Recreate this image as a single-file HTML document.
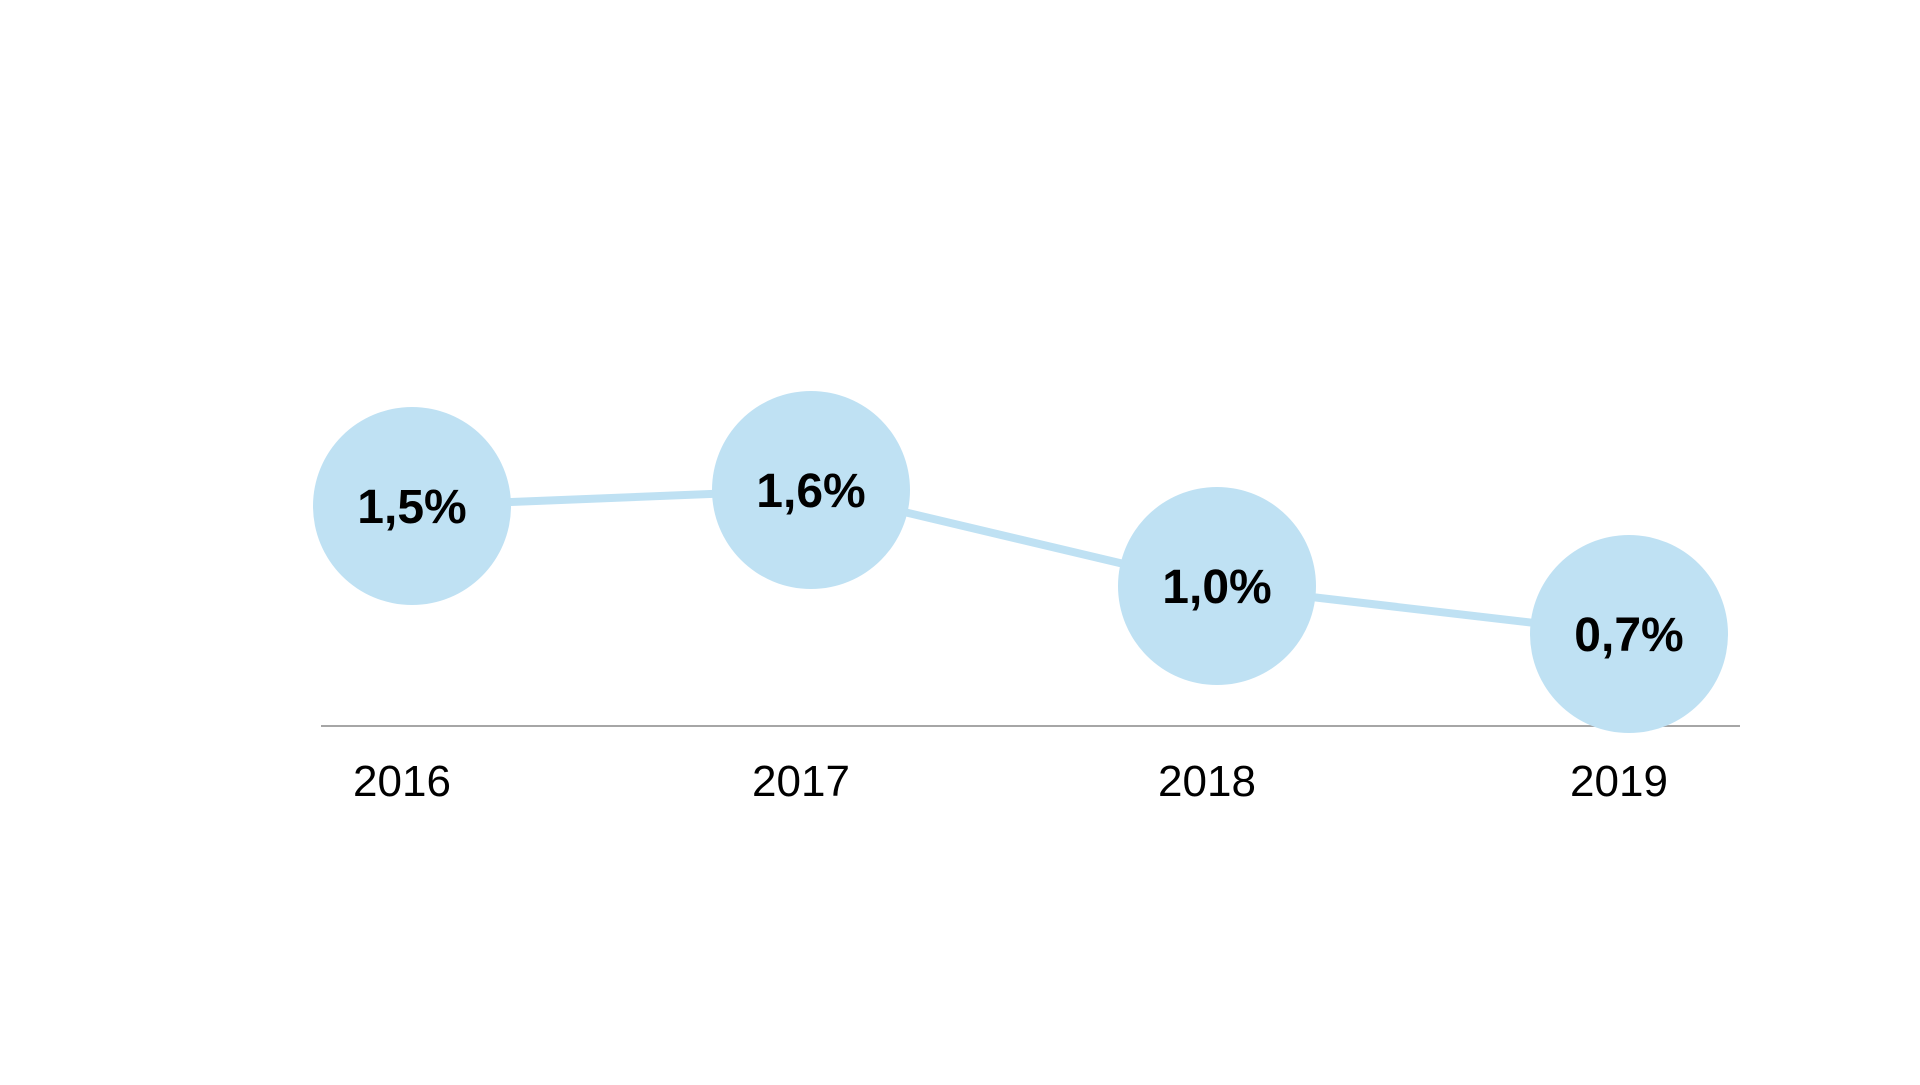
<!DOCTYPE html>
<html>
<head>
<meta charset="utf-8">
<style>
  html, body { margin: 0; padding: 0; background: #ffffff; }
  body { width: 1920px; height: 1080px; overflow: hidden; }
  svg text { font-family: "Liberation Sans", Arial, sans-serif; }
</style>
</head>
<body>
<svg id="chart" width="1920" height="1080" viewBox="0 0 1920 1080" xmlns="http://www.w3.org/2000/svg">
  <line x1="321" y1="726" x2="1740" y2="726" stroke="#a6a6a6" stroke-width="2"/>
  <g id="lines"></g>
  <g id="points"></g>
  <g id="xlabels"></g>
</svg>
<script>
const categories = ["2016", "2017", "2018", "2019"];
const values = [1.5, 1.6, 1.0, 0.7];
const valueLabels = ["1,5%", "1,6%", "1,0%", "0,7%"];

const NS = "http://www.w3.org/2000/svg";
const xPos = [412, 811, 1217, 1629];
function x(i) { return xPos[i]; }
function y(v) { return 586 - (v - 1.0) * 160; }
const R = 99;

const linesG = document.getElementById("lines");
for (let i = 0; i < values.length - 1; i++) {
  const l = document.createElementNS(NS, "line");
  
  
  l.setAttribute("x1", x(i)); l.setAttribute("y1", y(values[i]));
  l.setAttribute("x2", x(i + 1)); l.setAttribute("y2", y(values[i + 1]));
  l.setAttribute("stroke", "#bfe1f3"); l.setAttribute("stroke-width", "8");
  linesG.appendChild(l);
}
const ptsG = document.getElementById("points");
const xlG = document.getElementById("xlabels");
for (let i = 0; i < values.length; i++) {
  const c = document.createElementNS(NS, "circle");
  
  
  c.setAttribute("cx", x(i)); c.setAttribute("cy", y(values[i]));
  c.setAttribute("r", R); c.setAttribute("fill", "#bfe1f3");
  ptsG.appendChild(c);
  const t = document.createElementNS(NS, "text");
  
  
  t.setAttribute("x", x(i)); t.setAttribute("y", y(values[i]) + 17);
  t.setAttribute("text-anchor", "middle");
  t.setAttribute("font-size", "48"); t.setAttribute("font-weight", "bold");
  t.setAttribute("fill", "#000");
  t.textContent = valueLabels[i];
  ptsG.appendChild(t);
  const xl = document.createElementNS(NS, "text");
  
  
  xl.setAttribute("x", x(i) - 10); xl.setAttribute("y", 796);
  xl.setAttribute("text-anchor", "middle");
  xl.setAttribute("font-size", "44"); xl.setAttribute("fill", "#000");
  xl.textContent = categories[i];
  xlG.appendChild(xl);
}
</script>
</body>
</html>
